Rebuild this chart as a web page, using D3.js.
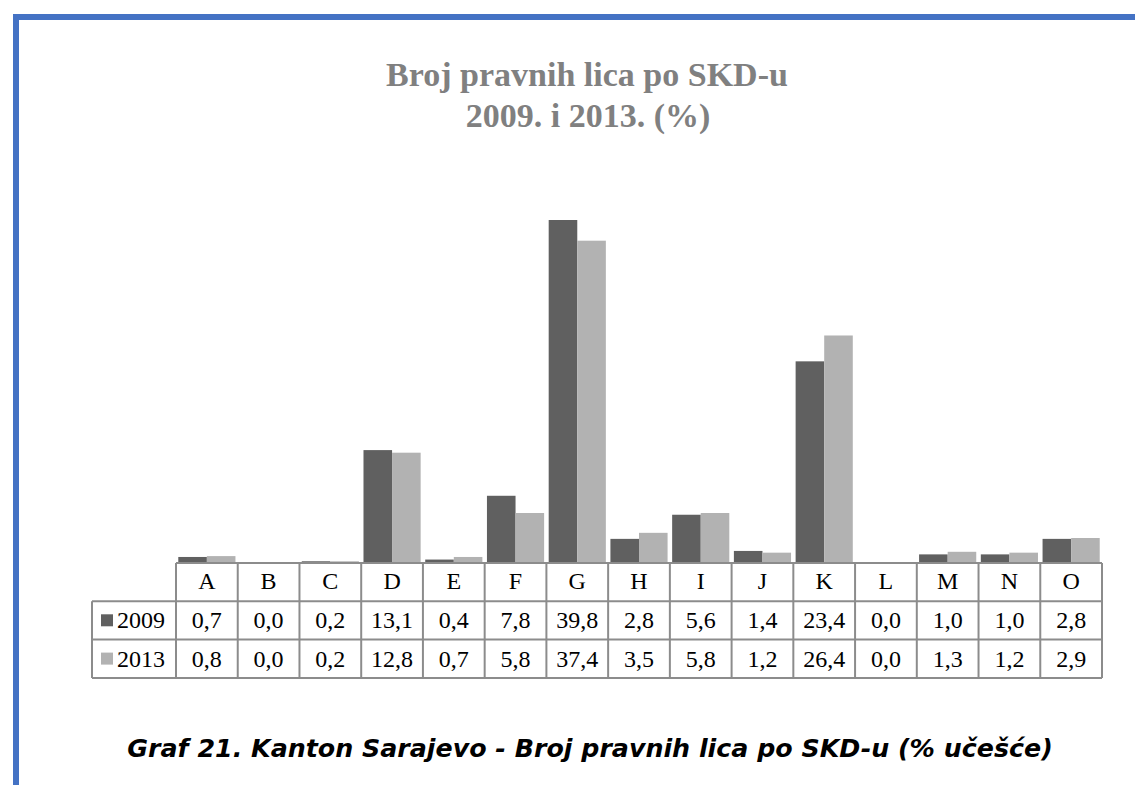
<!DOCTYPE html>
<html>
<head>
<meta charset="utf-8">
<script src="https://cdn.jsdelivr.net/npm/d3@7"></script>
<style>
  body { margin: 0; background: #fff; }
  svg { display: block; }
</style>
</head>
<body>
<svg id="chart" width="1135" height="785"></svg>
<script>
const categories = ["A", "B", "C", "D", "E", "F", "G", "H", "I", "J", "K", "L", "M", "N", "O"];
const years = ["2009", "2013"];
const values2009 = [0.7, 0.0, 0.2, 13.1, 0.4, 7.8, 39.8, 2.8, 5.6, 1.4, 23.4, 0.0, 1.0, 1.0, 2.8];
const values2013 = [0.8, 0.0, 0.2, 12.8, 0.7, 5.8, 37.4, 3.5, 5.8, 1.2, 26.4, 0.0, 1.3, 1.2, 2.9];
const seriesColors = ["#606060", "#b2b2b2"];

const series = [values2009, values2013];
const svg = d3.select("#chart");
const serif = "'Liberation Serif', 'Times New Roman', 'DejaVu Serif', serif";

// blue frame round the figure
svg.append("rect")
    .attr("x", 16).attr("y", 17)
    .attr("width", 1200).attr("height", 900)
    .attr("fill", "none")
    .attr("stroke", "#4472c4")
    .attr("stroke-width", 6);

// title
const title = svg.append("text")
    .attr("text-anchor", "middle")
    .style("font-family", serif)
    .style("font-weight", "bold")
    .style("font-size", "34px")
    .attr("fill", "#808080");
title.append("tspan").attr("x", 587).attr("y", 86).text("Broj pravnih lica po SKD-u");
title.append("tspan").attr("x", 588).attr("y", 127).text("2009. i 2013. (%)");

const tableLeft = 92, colLeft = 176, colRight = 1102;
const baseline = 563, rowH = 38.3;

const x = d3.scaleBand().domain(categories).range([colLeft, colRight]);
const y = d3.scaleLinear().domain([0, 39.8]).range([baseline, 220]);
const inner = d3.scaleBand().domain(years).range([0, x.bandwidth()]).paddingOuter(0.08);

// bars
svg.append("g").selectAll("g")
    .data(categories)
    .join("g")
    .attr("transform", d => `translate(${x(d)},0)`)
    .selectAll("rect")
    .data((c, i) => years.map((yr, s) => ({yr, s, v: series[s][i]})))
    .join("rect")
    .attr("x", d => inner(d.yr))
    .attr("width", inner.bandwidth())
    .attr("y", d => y(d.v))
    .attr("height", d => baseline - y(d.v))
    .attr("fill", d => seriesColors[d.s]);

// data table
const grid = svg.append("g")
    .attr("stroke", "#8c8c8c")
    .attr("stroke-width", 2)
    .attr("fill", "none");

const bottom = baseline + rowH * 3;
grid.append("line").attr("x1", colLeft).attr("x2", colRight).attr("y1", baseline).attr("y2", baseline);
[1, 2, 3].forEach(r => {
    grid.append("line").attr("x1", tableLeft).attr("x2", colRight)
        .attr("y1", baseline + r * rowH).attr("y2", baseline + r * rowH);
});
grid.append("line").attr("x1", tableLeft).attr("x2", tableLeft).attr("y1", baseline + rowH).attr("y2", bottom);
categories.forEach(c => {
    grid.append("line").attr("x1", x(c)).attr("x2", x(c)).attr("y1", baseline).attr("y2", bottom);
});
grid.append("line").attr("x1", colRight).attr("x2", colRight).attr("y1", baseline).attr("y2", bottom);

svg.append("g").selectAll("text")
    .data(categories)
    .join("text")
    .attr("x", d => x(d) + x.bandwidth() / 2)
    .attr("y", baseline + 26)
    .attr("text-anchor", "middle")
    .style("font-family", serif)
    .style("font-size", "24px")
    .attr("fill", "#000")
    .text(d => d);

const fmt = v => d3.format(".1f")(v).replace(".", ",");

series.forEach((vals, s) => {
    const rowY = baseline + rowH * (s + 1);
    svg.append("rect")
        .attr("x", 101).attr("y", rowY + 13)
        .attr("width", 12).attr("height", 12)
        .attr("fill", seriesColors[s]);
    svg.append("text")
        .attr("x", 117).attr("y", rowY + 27)
        .style("font-family", serif)
        .style("font-size", "24px")
        .text(years[s]);
    svg.append("g").selectAll("text")
        .data(vals)
        .join("text")
        .attr("x", (d, i) => x(categories[i]) + x.bandwidth() / 2)
        .attr("y", rowY + 27)
        .attr("text-anchor", "middle")
        .style("font-family", serif)
        .style("font-size", "24px")
        .text(d => fmt(d));
});

// caption
svg.append("text")
    .attr("x", 590).attr("y", 757)
    .attr("text-anchor", "middle")
    .style("font-family", "'DejaVu Sans', sans-serif")
    .style("font-style", "italic")
    .style("font-weight", "bold")
    .style("font-size", "25.3px")
    .attr("fill", "#000")
    .text("Graf 21. Kanton Sarajevo - Broj pravnih lica po SKD-u (% učešće)");
</script>
</body>
</html>
